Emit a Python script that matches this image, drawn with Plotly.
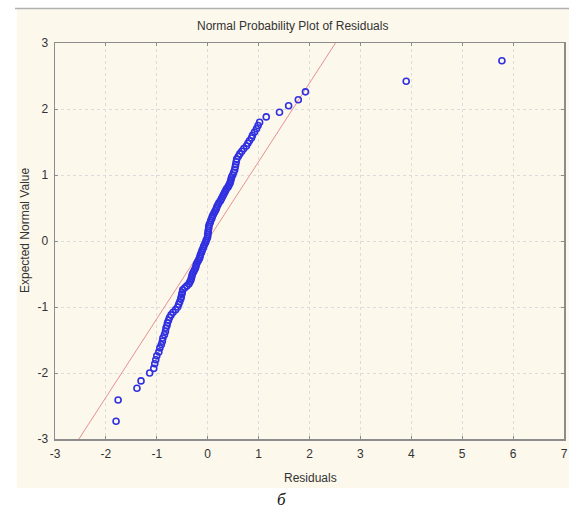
import plotly.graph_objects as go

# Residuals (x) and expected normal values (y)
expected_normal = [-2.73, -2.41, -2.23, -2.12, -2.00, -1.93, -1.86, -1.80, -1.74, -1.68,
                   -1.62, -1.57, -1.52, -1.47, -1.42, -1.37, -1.32, -1.28, -1.24, -1.20,
                   -1.16, -1.12, -1.08, -1.04, -1.00, -0.96, -0.92, -0.88, -0.85, -0.81,
                   -0.78, -0.74, -0.71, -0.68, -0.65, -0.62, -0.59, -0.56, -0.53, -0.50,
                   -0.47, -0.44, -0.41, -0.38, -0.35, -0.32, -0.29, -0.26, -0.23, -0.20,
                   -0.17, -0.14, -0.11, -0.08, -0.05, -0.02, 0.01, 0.04, 0.07, 0.10,
                   0.13, 0.16, 0.19, 0.22, 0.25, 0.28, 0.31, 0.34, 0.37, 0.40,
                   0.43, 0.46, 0.49, 0.52, 0.55, 0.58, 0.61, 0.64, 0.67, 0.70,
                   0.73, 0.76, 0.79, 0.82, 0.85, 0.88, 0.91, 0.94, 0.97, 1.00,
                   1.04, 1.08, 1.12, 1.16, 1.20, 1.24, 1.28, 1.32, 1.36, 1.40,
                   1.44, 1.48, 1.52, 1.56, 1.60, 1.65, 1.70, 1.75, 1.80, 1.88,
                   1.95, 2.05, 2.14, 2.26, 2.42, 2.73]
residuals = [-1.80, -1.76, -1.39, -1.31, -1.14, -1.06, -1.04, -1.02, -1.00, -0.96,
             -0.94, -0.91, -0.89, -0.88, -0.85, -0.83, -0.82, -0.80, -0.79, -0.77,
             -0.75, -0.72, -0.68, -0.63, -0.59, -0.57, -0.55, -0.53, -0.52, -0.51,
             -0.50, -0.49, -0.45, -0.41, -0.37, -0.35, -0.33, -0.32, -0.31, -0.30,
             -0.28, -0.26, -0.24, -0.23, -0.22, -0.20, -0.18, -0.16, -0.15, -0.14,
             -0.12, -0.11, -0.09, -0.08, -0.06, -0.04, -0.03, -0.01, 0.00, 0.00,
             0.01, 0.01, 0.02, 0.02, 0.03, 0.05, 0.06, 0.08, 0.09, 0.11,
             0.13, 0.15, 0.17, 0.18, 0.20, 0.22, 0.25, 0.27, 0.29, 0.31,
             0.33, 0.35, 0.37, 0.40, 0.42, 0.44, 0.45, 0.46, 0.47, 0.49,
             0.51, 0.53, 0.54, 0.55, 0.56, 0.57, 0.60, 0.63, 0.67, 0.71,
             0.76, 0.79, 0.82, 0.86, 0.88, 0.92, 0.96, 0.99, 1.02, 1.15,
             1.41, 1.59, 1.78, 1.92, 3.90, 5.78]

# Reference line endpoints (residual at expected -3 and +3)
line_x = [-2.53, 2.51]
line_y = [-3, 3]

x_ticks = [-3, -2, -1, 0, 1, 2, 3, 4, 5, 6, 7]
x_labels = ["-3", "-2", "-1", "0", "1", "2", "3", "4", "5", "6", "7"]
y_ticks = [-3, -2, -1, 0, 1, 2, 3]
y_labels = ["-3", "-2", "-1", "0", "1", "2", "3"]

CREAM = "#fcf8ec"
FONT = "Liberation Sans, Arial, sans-serif"
TXT = "#333333"

fig = go.Figure()
fig.add_trace(go.Scatter(x=line_x, y=line_y, mode="lines",
                         line=dict(color="#e89090", width=1), hoverinfo="skip"))
fig.add_trace(go.Scatter(x=residuals, y=expected_normal, mode="markers",
                         marker=dict(symbol="circle-open", size=6, color="#3030e0",
                                     line=dict(width=1.6, color="#3030e0"))))

W, H = 569, 514
L, R, T, B = 55, 5, 43, 75
pw, ph = W - L - R, H - T - B

def px(sx):
    return (sx - L) / pw

def py(sy):
    return (H - B - sy) / ph

axis_common = dict(showgrid=True, gridcolor="#dcdcdc", griddash="dot", gridwidth=1,
                   zeroline=False, showline=True, linecolor="#8c8c8c", linewidth=1.5,
                   mirror="ticks", ticks="inside", ticklen=3, tickcolor="#8c8c8c",
                   automargin=False,
                   tickfont=dict(family=FONT, size=12, color=TXT))

fig.update_layout(
    width=W, height=H,
    margin=dict(l=L, r=R, t=T, b=B, autoexpand=False),
    paper_bgcolor="white", plot_bgcolor="white",
    showlegend=False,
    hovermode=False,
    xaxis=dict(range=[-3, 7], tickvals=x_ticks, ticktext=x_labels, ticklabelstandoff=3,
               **axis_common),
    yaxis=dict(range=[-3, 3], tickvals=y_ticks, ticktext=y_labels, ticklabelstandoff=3,
               **axis_common),
    shapes=[
        dict(type="rect", xref="paper", yref="paper", x0=px(17), x1=px(W),
             y0=py(488), y1=py(9), fillcolor=CREAM, line=dict(width=0), layer="below"),
        dict(type="line", xref="paper", yref="paper", x0=px(15), x1=px(W), y0=py(8.5), y1=py(8.5),
             line=dict(color="#b0b0b0", width=1.5), layer="above"),
    ],
    annotations=[
        dict(text="Normal Probability Plot of Residuals", xref="paper", yref="paper",
             x=px(292), y=py(26), showarrow=False, xanchor="center", yanchor="middle",
             font=dict(family=FONT, size=12, color=TXT)),
        dict(text="Residuals", xref="paper", yref="paper",
             x=px(310), y=py(478), showarrow=False, xanchor="center", yanchor="middle",
             font=dict(family=FONT, size=12, color=TXT)),
        dict(text="Expected Normal Value", xref="paper", yref="paper", textangle=-90,
             x=px(25), y=py(230), showarrow=False, xanchor="center", yanchor="middle",
             font=dict(family=FONT, size=12, color=TXT)),
        dict(text="<i>б</i>", xref="paper", yref="paper", x=px(281), y=py(499), showarrow=False,
             xanchor="center", yanchor="middle",
             font=dict(family="Liberation Serif, Times New Roman, serif", size=17, color="#111111")),
    ],
)

# Remove the page's default body margin so the figure sits at the window's corner
fig.write_html("out.html", config={"displayModeBar": False, "staticPlot": True},
               post_script="document.body.style.margin='0';document.body.style.overflow='hidden';")
